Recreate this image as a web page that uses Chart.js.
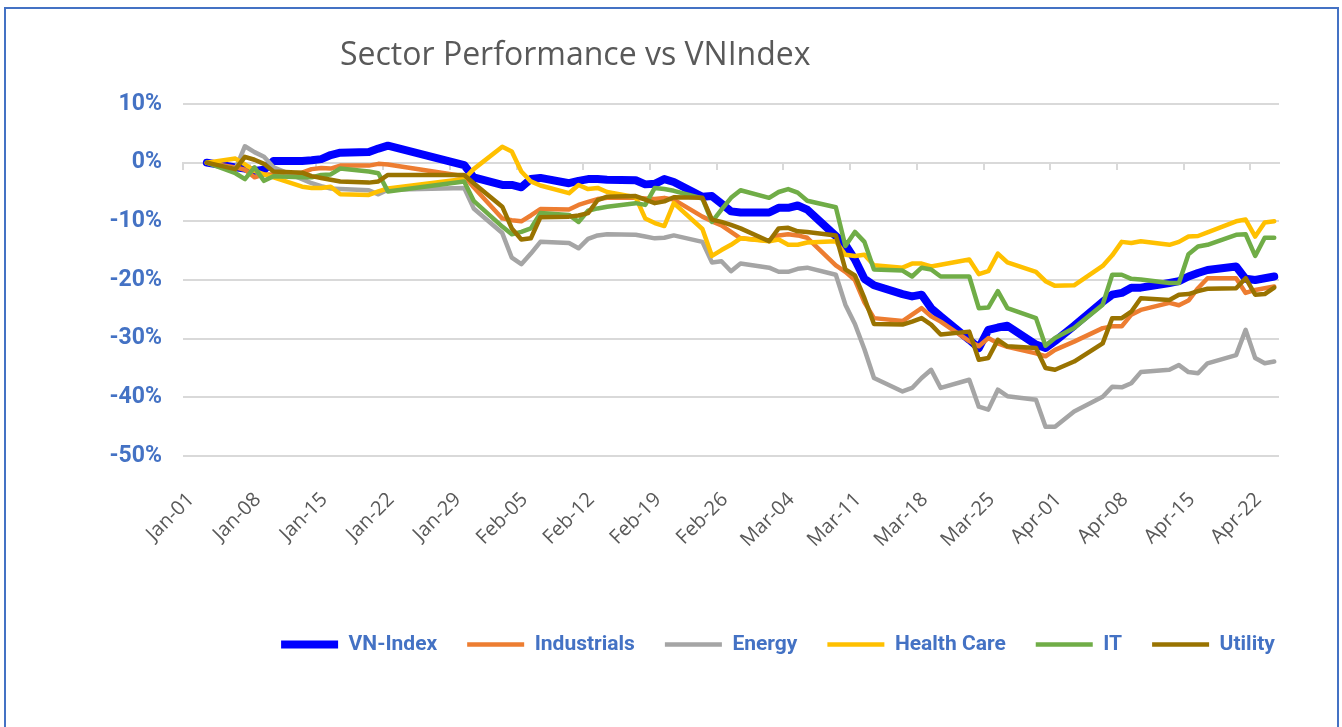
<!DOCTYPE html>
<html>
<head>
<meta charset="utf-8">
<script src="https://cdn.jsdelivr.net/npm/chart.js@4.4.1/dist/chart.umd.min.js"></script>
<style>
  html, body { margin: 0; padding: 0; background: #fff; overflow: hidden; }
  canvas { position: absolute; left: 0; top: 0; }
  #frame { position: absolute; left: 4px; top: 7px; width: 1335px; height: 740px; box-sizing: border-box; border: 2px solid #4472C4; pointer-events: none; }
</style>
</head>
<body>
<canvas id="chart" width="1342" height="727"></canvas>
<div id="frame"></div>
<script>
// trading days of 2020 (MM-DD)
const tradingDays = [
  '01-03','01-06','01-07','01-08','01-09','01-10','01-13','01-14','01-15','01-16','01-17','01-20','01-21','01-22','01-30','01-31',
  '02-03','02-04','02-05','02-06','02-07','02-10','02-11','02-12','02-13','02-14','02-17','02-18','02-19','02-20','02-21','02-24','02-25','02-26','02-27','02-28',
  '03-02','03-03','03-04','03-05','03-06','03-09','03-10','03-11','03-12','03-13','03-16','03-17','03-18','03-19','03-20','03-23','03-24','03-25','03-26','03-27','03-30','03-31',
  '04-01','04-03','04-06','04-07','04-08','04-09','04-10','04-13','04-14','04-15','04-16','04-17','04-20','04-21','04-22','04-23','04-24'
];

const weekLabels = ['Jan-01','Jan-08','Jan-15','Jan-22','Jan-29','Feb-05','Feb-12','Feb-19','Feb-26',
  'Mar-04','Mar-11','Mar-18','Mar-25','Apr-01','Apr-08','Apr-15','Apr-22'];

const seriesNames = ['VN-Index', 'Industrials', 'Energy', 'Health Care', 'IT', 'Utility'];

// % change since start
const vnIndex = [
  0, -0.8, -1.0, -1.4, -1.2, 0.3, 0.3, 0.4, 0.6, 1.3, 1.7, 1.8, 2.4, 2.9, -0.4, -2.5,
  -3.8, -3.8, -4.2, -2.8, -2.6, -3.5, -3.1, -2.8, -2.8, -2.9, -3.0, -3.7, -3.6, -2.8, -3.3, -5.8, -5.7, -7.0, -8.3, -8.5,
  -8.5, -7.7, -7.7, -7.3, -8.0, -12.5, -14.0, -16.5, -19.8, -20.9, -22.4, -22.8, -22.5, -24.8, -26.2, -30.2, -31.6, -28.5, -28.1, -27.8, -31.0, -31.6,
  -30.4, -27.8, -23.7, -22.5, -22.2, -21.3, -21.3, -20.5, -20.2, -19.4, -18.8, -18.3, -17.7, -19.8, -20.0, -19.7, -19.4
];
const industrials = [
  0, -0.8, -1.2, -2.5, -2.0, -2.0, -1.7, -1.1, -0.9, -1.0, -0.5, -0.5, -0.2, -0.3, -2.3, -4.2,
  -9.5, -9.8, -10.0, -9.0, -7.9, -8.0, -7.2, -6.7, -6.2, -6.0, -6.0, -6.1, -6.2, -6.0, -6.3, -9.2, -10.0, -10.7, -11.8, -12.9,
  -13.3, -12.4, -12.2, -12.4, -12.8, -17.5, -18.6, -20.0, -23.8, -26.5, -27.0, -25.9, -24.8, -26.2, -27.1, -30.4, -31.3, -29.9, -30.8, -31.4, -32.5, -33.0,
  -31.9, -30.5, -28.2, -27.9, -27.9, -25.9, -25.1, -23.9, -24.3, -23.5, -21.4, -19.7, -19.7, -22.2, -21.7, -21.4, -21.1
];
const energy = [
  0, -1.1, 2.8, 1.8, 1.0, -0.8, -2.8, -3.5, -4.0, -4.4, -4.5, -4.7, -5.4, -4.6, -4.3, -7.8,
  -12.0, -16.2, -17.3, -15.5, -13.5, -13.7, -14.6, -13.0, -12.4, -12.2, -12.3, -12.6, -12.9, -12.8, -12.4, -13.5, -17.0, -16.8, -18.5, -17.2,
  -17.9, -18.6, -18.6, -18.1, -17.9, -19.1, -24.2, -27.5, -31.8, -36.7, -39.0, -38.4, -36.7, -35.3, -38.4, -37.0, -41.6, -42.1, -38.7, -39.8, -40.4, -45.0,
  -45.0, -42.4, -39.9, -38.2, -38.3, -37.6, -35.7, -35.3, -34.5, -35.7, -35.9, -34.2, -32.8, -28.5, -33.3, -34.2, -33.9
];
const healthCare = [
  0, 0.7, -0.3, -1.4, -2.0, -2.5, -4.1, -4.3, -4.3, -4.1, -5.4, -5.5, -4.9, -4.4, -2.8, -1.1,
  2.7, 1.9, -1.5, -3.2, -3.9, -5.2, -3.8, -4.5, -4.3, -5.0, -5.9, -9.5, -10.3, -10.8, -6.9, -11.3, -15.9, -14.9, -14.0, -12.9,
  -13.4, -13.1, -14.0, -14.0, -13.6, -13.4, -15.7, -15.9, -15.7, -17.5, -17.9, -17.2, -17.2, -17.7, -17.4, -16.5, -19.0, -18.5, -15.5, -17.0, -18.6, -20.2,
  -21.0, -20.9, -17.6, -15.8, -13.5, -13.7, -13.4, -14.0, -13.5, -12.6, -12.5, -11.9, -10.0, -9.7, -12.6, -10.2, -10.0
];
const it = [
  0, -1.8, -2.8, -0.8, -3.1, -2.3, -2.5, -2.5, -2.1, -2.0, -1.0, -1.5, -1.8, -4.9, -3.2, -6.5,
  -10.9, -12.2, -11.8, -11.2, -8.6, -8.9, -10.1, -8.2, -7.8, -7.5, -6.9, -7.2, -4.3, -4.5, -4.8, -6.1, -10.1, -8.0, -6.0, -4.7,
  -6.0, -5.0, -4.5, -5.1, -6.5, -7.6, -14.2, -11.8, -13.5, -18.2, -18.4, -19.4, -17.9, -18.2, -19.4, -19.4, -24.8, -24.7, -21.9, -24.8, -26.5, -31.2,
  -29.9, -28.2, -24.2, -19.1, -19.1, -19.8, -19.9, -20.5, -20.5, -15.6, -14.3, -14.0, -12.3, -12.2, -15.9, -12.8, -12.8
];
const utility = [
  0, -1.1, 1.0, 0.5, -0.2, -1.5, -1.7, -2.3, -2.6, -2.9, -3.2, -3.4, -3.2, -2.1, -2.1, -3.5,
  -7.5, -11.2, -13.1, -12.9, -9.3, -9.2, -9.0, -8.6, -6.4, -5.8, -5.7, -6.3, -6.9, -6.6, -5.9, -6.0, -9.7, -10.1, -10.6, -11.2,
  -13.4, -11.2, -11.1, -11.7, -11.8, -12.4, -18.2, -19.2, -23.1, -27.5, -27.6, -27.1, -26.5, -27.6, -29.3, -28.8, -33.6, -33.3, -30.2, -31.3, -31.6, -35.0,
  -35.3, -33.9, -30.8, -26.5, -26.5, -25.4, -23.1, -23.4, -22.5, -22.4, -21.9, -21.5, -21.4, -19.7, -22.5, -22.4, -21.3
];

const chartTitle = 'Sector Performance vs VNIndex';

// day number counted from Jan-01, points sit in the middle of their day like Excel's date axis
function dayOf(md) {
  const [m, d] = md.split('-').map(Number);
  return (Date.UTC(2020, m - 1, d) - Date.UTC(2020, 0, 1)) / 864e5;
}
function toPoints(values) {
  return values.map((v, i) => ({ x: dayOf(tradingDays[i]) + 0.5, y: v }));
}

const colors = ['#0000FF', '#ED7D31', '#A5A5A5', '#FFC000', '#70AD47', '#997300'];
const allSeries = [vnIndex, industrials, energy, healthCare, it, utility];

const datasets = allSeries.map((vals, i) => ({
  label: seriesNames[i],
  data: toPoints(vals),
  borderColor: colors[i],
  backgroundColor: colors[i],
  borderWidth: i === 0 ? 8 : 4.5,
  borderCapStyle: 'round',
  borderJoinStyle: 'round',
  pointRadius: 0,
  tension: 0,
  order: allSeries.length - i // later series drawn on top, like Excel
}));

const dayMax = 115;
const keepWeekly = (scale) => { scale.ticks = scale.ticks.filter(t => t.value % 7 === 0); };

// title drawn where Excel put it
const titlePlugin = {
  id: 'sheetTitle',
  afterDraw(chart) {
    const ctx = chart.ctx;
    ctx.save();
    ctx.font = '32px "Open Sans"';
    ctx.fillStyle = '#595959';
    ctx.textBaseline = 'middle';
    ctx.textAlign = 'left';
    ctx.fillText(chartTitle, 340, 56);
    ctx.restore();
  }
};

// legend is a bit right of centre in the original
const legendShift = {
  id: 'legendShift',
  afterLayout(chart) {
    chart.legend.left += 47;
    chart.legend.right += 47;
  }
};

new Chart(document.getElementById('chart'), {
  type: 'line',
  data: { datasets: datasets },
  plugins: [titlePlugin, legendShift],
  options: {
    responsive: false,
    animation: false,
    devicePixelRatio: 1,
    layout: { padding: { left: 0, top: 104, right: 63, bottom: 62 } },
    scales: {
      x: {
        type: 'linear',
        min: 0,
        max: dayMax,
        afterBuildTicks: keepWeekly,
        afterFit: (scale) => { scale.height = 148; },
        grid: { display: false },
        border: { display: false },
        ticks: {
          stepSize: 7,
          includeBounds: false,
          autoSkip: false,
          minRotation: 45,
          maxRotation: 45,
          padding: 24,
          labelOffset: 8,
          color: '#595959',
          font: { family: '"Open Sans"', size: 20 },
          callback: (v) => weekLabels[v / 7]
        }
      },
      xZero: {
        axis: 'x',
        type: 'linear',
        position: { y: 0 },
        min: 0,
        max: dayMax,
        afterBuildTicks: keepWeekly,
        ticks: { display: false, stepSize: 7, includeBounds: false },
        grid: { drawOnChartArea: false, drawTicks: true, tickLength: 6, color: '#D9D9D9', lineWidth: 2 },
        border: { display: true, color: '#D9D9D9', width: 2 }
      },
      y: {
        min: -50,
        max: 10,
        afterFit: (scale) => { scale.width = 183; },
        grid: { color: '#D9D9D9', lineWidth: 2, drawTicks: false },
        border: { display: false },
        ticks: {
          stepSize: 10,
          padding: 21,
          color: '#4472C4',
          font: { family: 'Roboto', size: 23, weight: 'bold' },
          callback: (v) => v + '%'
        }
      }
    },
    plugins: {
      title: { display: false },
      tooltip: { enabled: false },
      legend: {
        display: true,
        position: 'bottom',
        fullSize: false,
        labels: {
          usePointStyle: true,
          pointStyle: 'line',
          pointStyleWidth: 57,
          padding: 30,
          color: '#4472C4',
          font: { family: 'Roboto', size: 21, weight: 'bold' },
          sort: (a, b) => a.datasetIndex - b.datasetIndex
        }
      }
    }
  }
});
</script>
</body>
</html>
